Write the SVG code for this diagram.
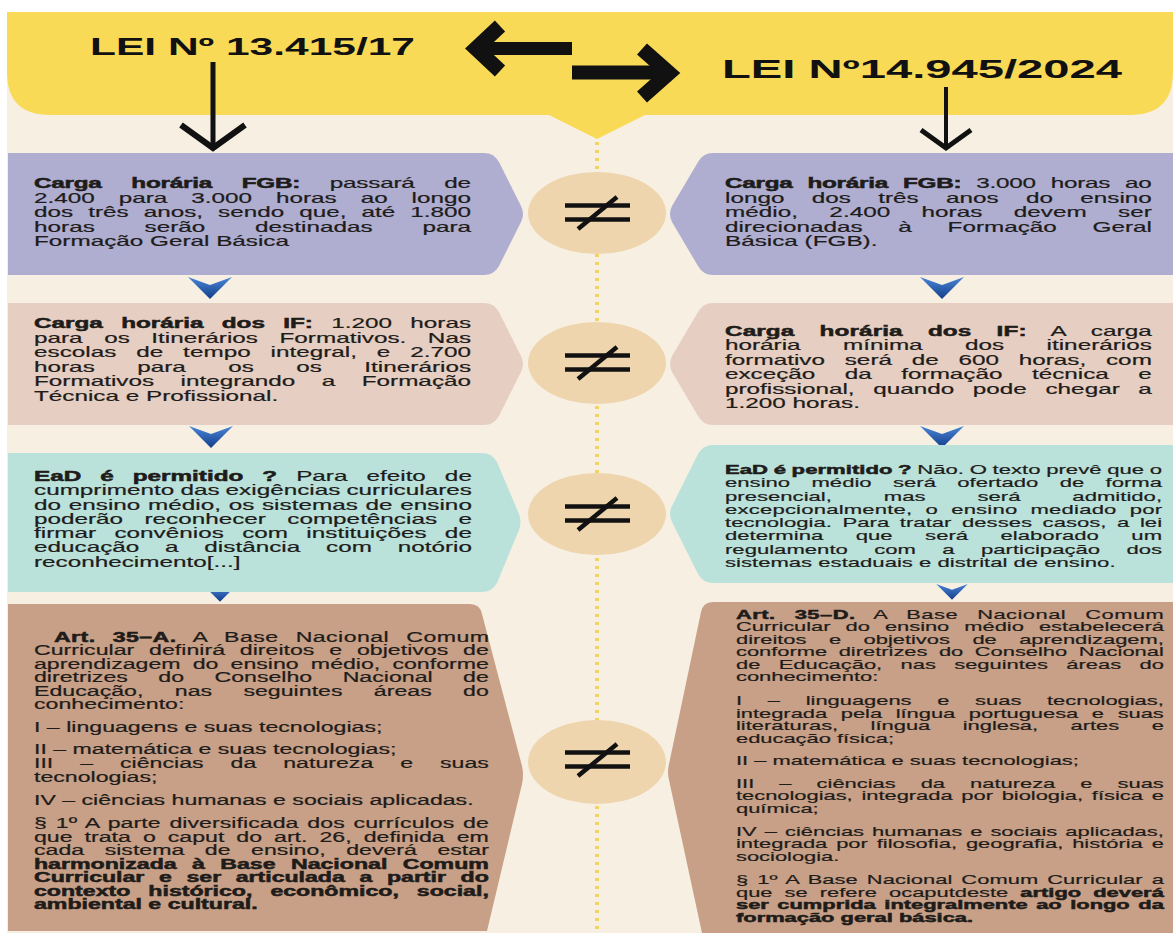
<svg xmlns="http://www.w3.org/2000/svg" width="1173" height="933" viewBox="0 0 1173 933">
<defs>
<style>
.t{font-family:"Liberation Sans",Arial,sans-serif;font-weight:400;fill:#1e1c1a;stroke:#1e1c1a;stroke-width:0.2}
.b{font-weight:700;stroke-width:0.5}
.h{font-family:"Liberation Sans","DejaVu Sans",sans-serif;font-weight:700;fill:#111}
.c1{fill:#afaed1}
.c2{fill:#e6cfc2}
.c3{fill:#bbe2da}
.c4{fill:#c8a087}
.circ{fill:#eed5ae}
.ne{stroke:#111;stroke-width:4.5;stroke-linecap:butt;fill:none}
.blk{stroke:#111;fill:none}
.chev{fill:url(#cg)}
</style>
<linearGradient id="cg" x1="0" y1="0" x2="0" y2="1">
<stop offset="0" stop-color="#4a86d6"/>
<stop offset="1" stop-color="#123d8a"/>
</linearGradient>
<g id="neq">
<line class="ne" x1="-32" y1="-7.5" x2="33" y2="-7.5"/>
<line class="ne" x1="-32" y1="6.5" x2="33" y2="6.5"/>
<line class="ne" x1="-19" y1="16" x2="20" y2="-16"/>
</g>
<path id="chev" d="M-22,0 L0,8 L22,0 L0,22 Z"/>
</defs>

<rect x="0" y="0" width="1173" height="933" fill="#ffffff"/>
<rect x="7" y="12" width="1166" height="921" fill="#f7f0e2"/>

<g id="header">
<path d="M7,12 H1173 V72 Q1173,115 1130,115 H645 L597,139 L549,115 H50 Q7,115 7,72 Z" fill="#f9da57"/>
<text class="h" x="90" y="55" font-size="23.5" textLength="325" lengthAdjust="spacingAndGlyphs">LEI Nº 13.415/17</text>
<text class="h" x="722" y="78" font-size="25.5" textLength="400" lengthAdjust="spacingAndGlyphs">LEI Nº14.945/2024</text>
</g>

<g id="connectors">
<line x1="597" y1="142" x2="597" y2="933" stroke="#f2d55b" stroke-width="4" stroke-dasharray="3 5"/>
<line class="blk" x1="213" y1="62" x2="213" y2="146" stroke-width="5"/>
<polyline class="blk" points="181,125 213,148 245,125" stroke-width="6"/>
<line class="blk" x1="946" y1="87" x2="946" y2="146" stroke-width="4"/>
<polyline class="blk" points="921,130 946,148 971,130" stroke-width="5"/>
<polyline class="blk" points="500,26 476,48.5 500,71" stroke-width="15" stroke-miterlimit="10"/>
<line class="blk" x1="480" y1="48.5" x2="572" y2="48.5" stroke-width="13"/>
<polyline class="blk" points="642,49 669,73 642,97" stroke-width="15" stroke-miterlimit="10"/>
<line class="blk" x1="572" y1="72.5" x2="665" y2="72.5" stroke-width="14"/>
<use href="#chev" class="chev" transform="translate(210,277)"/>
<use href="#chev" class="chev" transform="translate(942,277)"/>
<use href="#chev" class="chev" transform="translate(211,426)"/>
<use href="#chev" class="chev" transform="translate(942,426)"/>
<use href="#chev" class="chev" transform="translate(220,586) scale(0.72)"/>
<use href="#chev" class="chev" transform="translate(952,584) scale(0.72)"/>
</g>

<g id="compare">
<ellipse class="circ" cx="597" cy="213" rx="69" ry="41"/>
<use href="#neq" x="597" y="213"/>
<ellipse class="circ" cx="597" cy="363" rx="69" ry="41"/>
<use href="#neq" x="597" y="363"/>
<ellipse class="circ" cx="597" cy="514" rx="69" ry="41"/>
<use href="#neq" x="597" y="514"/>
<ellipse class="circ" cx="597" cy="762" rx="69" ry="42"/>
<use href="#neq" x="597" y="760"/>
</g>

<g id="left-fgb">
<path class="c1" d="M8,153 H484 Q494,153 499,162 L521,206 Q525,214 521,222 L499,266 Q494,275 484,275 H8 Z"/>
<g transform="translate(34 0) scale(1.698 1)" font-size="14.31">
<text class="t" y="188" word-spacing="13.7" textLength="257.4" lengthAdjust="spacing"><tspan class="b">Carga horária FGB:</tspan> passará de</text>
<text class="t" y="202.6" word-spacing="10.1" textLength="257.4" lengthAdjust="spacing">2.400 para 3.000 horas ao longo</text>
<text class="t" y="217.2" word-spacing="4.9" textLength="257.4" lengthAdjust="spacing">dos três anos, sendo que, até 1.800</text>
<text class="t" y="231.8" word-spacing="25.3" textLength="257.4" lengthAdjust="spacing">horas serão destinadas para</text>
<text class="t" y="246.4">Formação Geral Básica</text>
</g>
</g>

<g id="right-fgb">
<path class="c1" d="M1173,153 H713 Q703,153 698,162 L672,206 Q668,214 672,222 L698,266 Q703,275 713,275 H1173 Z"/>
<g transform="translate(725 0) scale(1.698 1)" font-size="14.31">
<text class="t" y="188" word-spacing="5" textLength="251.4" lengthAdjust="spacing"><tspan class="b">Carga horária FGB:</tspan> 3.000 horas ao</text>
<text class="t" y="202.6" word-spacing="12.1" textLength="251.4" lengthAdjust="spacing">longo dos três anos do ensino</text>
<text class="t" y="217.2" word-spacing="14.5" textLength="251.4" lengthAdjust="spacing">médio, 2.400 horas devem ser</text>
<text class="t" y="231.8" word-spacing="17.1" textLength="251.4" lengthAdjust="spacing">direcionadas à Formação Geral</text>
<text class="t" y="246.4">Básica (FGB).</text>
</g>
</g>

<g id="left-if">
<path class="c2" d="M8,303 H484 Q494,303 499,312 L521,356 Q525,364 521,372 L499,416 Q494,425 484,425 H8 Z"/>
<g transform="translate(34 0) scale(1.698 1)" font-size="14.31">
<text class="t" y="328" word-spacing="6.8" textLength="257.4" lengthAdjust="spacing"><tspan class="b">Carga horária dos IF:</tspan> 1.200 horas</text>
<text class="t" y="342.6" word-spacing="8.7" textLength="257.4" lengthAdjust="spacing">para os Itinerários Formativos. Nas</text>
<text class="t" y="357.2" word-spacing="7.7" textLength="257.4" lengthAdjust="spacing">escolas de tempo integral, e 2.700</text>
<text class="t" y="371.8" word-spacing="21" textLength="257.4" lengthAdjust="spacing">horas para os os Itinerários</text>
<text class="t" y="386.4" word-spacing="11.6" textLength="257.4" lengthAdjust="spacing">Formativos integrando a Formação</text>
<text class="t" y="401">Técnica e Profissional.</text>
</g>
</g>

<g id="right-if">
<path class="c2" d="M1173,303 H713 Q703,303 698,312 L672,356 Q668,364 672,372 L698,416 Q703,425 713,425 H1173 Z"/>
<g transform="translate(725 0) scale(1.698 1)" font-size="14.31">
<text class="t" y="336" word-spacing="10.8" textLength="251.4" lengthAdjust="spacing"><tspan class="b">Carga horária dos IF:</tspan> A carga</text>
<text class="t" y="350.4" word-spacing="21" textLength="251.4" lengthAdjust="spacing">horária mínima dos itinerários</text>
<text class="t" y="364.8" word-spacing="7.6" textLength="251.4" lengthAdjust="spacing">formativo será de 600 horas, com</text>
<text class="t" y="379.2" word-spacing="13.4" textLength="251.4" lengthAdjust="spacing">exceção da formação técnica e</text>
<text class="t" y="393.6" word-spacing="7" textLength="251.4" lengthAdjust="spacing">profissional, quando pode chegar a</text>
<text class="t" y="408">1.200 horas.</text>
</g>
</g>

<g id="left-ead">
<path class="c3" d="M8,453 H482 Q492,453 497,462 L519,514 Q522,522 519,530 L497,583 Q492,592 482,592 H8 Z"/>
<g transform="translate(34 0) scale(1.698 1)" font-size="14.31">
<text class="t" y="481" word-spacing="7.2" textLength="257.9" lengthAdjust="spacing"><tspan class="b">EaD é permitido ?</tspan> Para efeito de</text>
<text class="t" y="495.3" word-spacing="-0.4" textLength="257.9" lengthAdjust="spacing">cumprimento das exigências curriculares</text>
<text class="t" y="509.6" word-spacing="0.5" textLength="257.9" lengthAdjust="spacing">do ensino médio, os sistemas de ensino</text>
<text class="t" y="523.9" word-spacing="8.6" textLength="257.9" lengthAdjust="spacing">poderão reconhecer competências e</text>
<text class="t" y="538.2" word-spacing="6.8" textLength="257.9" lengthAdjust="spacing">firmar convênios com instituições de</text>
<text class="t" y="552.5" word-spacing="11.2" textLength="257.9" lengthAdjust="spacing">educação a distância com notório</text>
<text class="t" y="566.8">reconhecimento[...]</text>
</g>
</g>

<g id="right-ead">
<path class="c3" d="M1173,445 H713 Q703,445 698,454 L672,506 Q668,514 672,522 L698,574 Q703,583 713,583 H1173 Z"/>
<g transform="translate(725 0) scale(1.7 1)" font-size="13">
<text class="t" y="474" word-spacing="-0.3" textLength="257.1" lengthAdjust="spacing"><tspan class="b">EaD é permitido ?</tspan> Não. O texto prevê que o</text>
<text class="t" y="487.3" word-spacing="8.9" textLength="257.1" lengthAdjust="spacing">ensino médio será ofertado de forma</text>
<text class="t" y="500.6" word-spacing="26.9" textLength="257.1" lengthAdjust="spacing">presencial, mas será admitido,</text>
<text class="t" y="513.9" word-spacing="4" textLength="257.1" lengthAdjust="spacing">excepcionalmente, o ensino mediado por</text>
<text class="t" y="527.2" word-spacing="2.6" textLength="257.1" lengthAdjust="spacing">tecnologia. Para tratar desses casos, a lei</text>
<text class="t" y="540.5" word-spacing="15.5" textLength="257.1" lengthAdjust="spacing">determina que será elaborado um</text>
<text class="t" y="553.8" word-spacing="11.9" textLength="257.1" lengthAdjust="spacing">regulamento com a participação dos</text>
<text class="t" y="567.1">sistemas estaduais e distrital de ensino.</text>
</g>
</g>

<g id="left-bncc">
<path class="c4" d="M8,604 H470 Q480,604 482,614 L522,766 Q524,775 522,784 L487,931 H8 Z"/>
<g transform="translate(34 0) scale(1.679 1)" font-size="13.78">
<text class="t" x="11.9" y="642" word-spacing="6.1" textLength="259.1" lengthAdjust="spacing"><tspan class="b">Art. 35–A.</tspan> A Base Nacional Comum</text>
<text class="t" y="655.5" word-spacing="5" textLength="270.9" lengthAdjust="spacing">Curricular definirá direitos e objetivos de</text>
<text class="t" y="669" word-spacing="3.4" textLength="270.9" lengthAdjust="spacing">aprendizagem do ensino médio, conforme</text>
<text class="t" y="682.5" word-spacing="14.3" textLength="270.9" lengthAdjust="spacing">diretrizes do Conselho Nacional de</text>
<text class="t" y="696" word-spacing="14.8" textLength="270.9" lengthAdjust="spacing">Educação, nas seguintes áreas do</text>
<text class="t" y="709.5">conhecimento:</text>
<text class="t" y="732">I – linguagens e suas tecnologias;</text>
<text class="t" y="754.5">II – matemática e suas tecnologias;</text>
<text class="t" y="768.5" word-spacing="12.2" textLength="270.9" lengthAdjust="spacing">III – ciências da natureza e suas</text>
<text class="t" y="782">tecnologias;</text>
<text class="t" y="805">IV – ciências humanas e sociais aplicadas.</text>
<text class="t" y="828.5" word-spacing="1.4" textLength="270.9" lengthAdjust="spacing">§ 1º A parte diversificada dos currículos de</text>
<text class="t" y="842" word-spacing="3.3" textLength="270.9" lengthAdjust="spacing">que trata o caput do art. 26, definida em</text>
<text class="t" y="855.5" word-spacing="8.4" textLength="270.9" lengthAdjust="spacing">cada sistema de ensino, deverá estar</text>
<text class="t b" y="869" word-spacing="5.3" textLength="270.9" lengthAdjust="spacing">harmonizada à Base Nacional Comum</text>
<text class="t b" y="882.5" word-spacing="4.9" textLength="270.9" lengthAdjust="spacing">Curricular e ser articulada a partir do</text>
<text class="t b" y="896" word-spacing="6.9" textLength="270.9" lengthAdjust="spacing">contexto histórico, econômico, social,</text>
<text class="t b" y="909">ambiental e cultural.</text>
</g>
</g>

<g id="right-bncc">
<path class="c4" d="M1173,602 H713 Q703,602 701,612 L669,764 Q667,772 669,780 L702,933 H1173 Z"/>
<g transform="translate(736 0) scale(1.679 1)" font-size="13.04">
<text class="t" y="619" word-spacing="7.4" textLength="254.8" lengthAdjust="spacing"><tspan class="b">Art. 35–D.</tspan> A Base Nacional Comum</text>
<text class="t" y="631.5" word-spacing="5.4" textLength="254.8" lengthAdjust="spacing">Curricular do ensino médio estabelecerá</text>
<text class="t" y="644" word-spacing="9.8" textLength="254.8" lengthAdjust="spacing">direitos e objetivos de aprendizagem,</text>
<text class="t" y="656.5" word-spacing="3.2" textLength="254.8" lengthAdjust="spacing">conforme diretrizes do Conselho Nacional</text>
<text class="t" y="669" word-spacing="7.3" textLength="254.8" lengthAdjust="spacing">de Educação, nas seguintes áreas do</text>
<text class="t" y="681.5">conhecimento:</text>
<text class="t" y="705.5" word-spacing="11.7" textLength="254.8" lengthAdjust="spacing">I – linguagens e suas tecnologias,</text>
<text class="t" y="718" word-spacing="4.5" textLength="254.8" lengthAdjust="spacing">integrada pela língua portuguesa e suas</text>
<text class="t" y="730.5" word-spacing="15.7" textLength="254.8" lengthAdjust="spacing">literaturas, língua inglesa, artes e</text>
<text class="t" y="743">educação física;</text>
<text class="t" y="765.5">II – matemática e suas tecnologias;</text>
<text class="t" y="788" word-spacing="11.3" textLength="254.8" lengthAdjust="spacing">III – ciências da natureza e suas</text>
<text class="t" y="800.5" word-spacing="1.6" textLength="254.8" lengthAdjust="spacing">tecnologias, integrada por biologia, física e</text>
<text class="t" y="813">química;</text>
<text class="t" y="836" word-spacing="1.2" textLength="254.8" lengthAdjust="spacing">IV – ciências humanas e sociais aplicadas,</text>
<text class="t" y="848.5" word-spacing="1.7" textLength="254.8" lengthAdjust="spacing">integrada por filosofia, geografia, história e</text>
<text class="t" y="861">sociologia.</text>
<text class="t" y="884.5" word-spacing="1.7" textLength="254.8" lengthAdjust="spacing">§ 1º A Base Nacional Comum Curricular a</text>
<text class="t" y="897" word-spacing="3.6" textLength="254.8" lengthAdjust="spacing">que se refere ocaputdeste <tspan class="b">artigo deverá</tspan></text>
<text class="t b" y="909.5" word-spacing="1.5" textLength="254.8" lengthAdjust="spacing">ser cumprida integralmente ao longo da</text>
<text class="t b" y="922">formação geral básica.</text>
</g>
</g>
</svg>
